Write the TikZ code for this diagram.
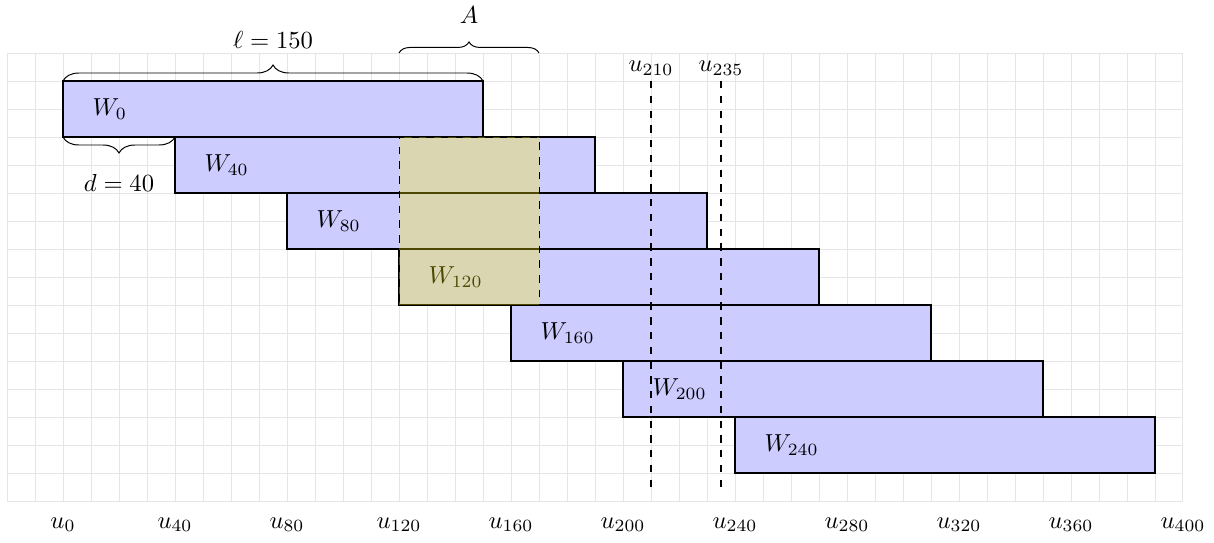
\documentclass[tikz,border=0pt]{standalone}
\usetikzlibrary{decorations.pathreplacing}
\definecolor{hlc}{RGB}{255,238,0}
\begin{document}
\begin{tikzpicture}[x=0.4cm,y=0.4cm,
  win/.style={draw=black, thick, fill=blue!20, minimum width=6cm, minimum height=0.8cm, inner sep=0pt, outer sep=0pt, anchor=south west},
  wlab/.style={anchor=west},
  vline/.style={thick, dashed},
  hl/.style={fill=hlc, fill opacity=0.3, draw=black, dashed, minimum width=2cm, minimum height=2.4cm, inner sep=0pt, outer sep=0pt, anchor=south west},
  bracestyle/.style={decorate, decoration={brace, amplitude=#1}}]
\useasboundingbox (-2.25,-1.464) rectangle (41.107,17.893);
\draw[gray!20, step=0.4cm] (-2,0) grid (40,16);
\foreach \k in {0,...,6} {
  \pgfmathtruncatemacro\v{40*\k}
  \node[win] (w\k) at ({4*\k},{13-2*\k}) {};
  \node[wlab] (lw\k) at ({4*\k+0.75},{14-2*\k}) {$W_{\v}$};
}
\foreach \k in {0,...,10} {
  \pgfmathtruncatemacro\v{40*\k}
  \node (u\v) at ({4*\k},-0.85) {$u_{\v}$};
}
\node[hl] (A) at (12,7) {};
\coordinate (t210) at (21,15);
\coordinate (b210) at (21,0.5);
\coordinate (t235) at (23.5,15);
\coordinate (b235) at (23.5,0.5);
\draw[vline] (t210) -- (b210);
\draw[vline] (t235) -- (b235);
\node (l210) at (21,15.45) {$u_{210}$};
\node (l235) at (23.5,15.45) {$u_{235}$};
\draw[bracestyle=6.5pt] (w0.north west) -- (w0.north east);
\node (ell) at (7.5,16.46) {$\ell = 150$};
\coordinate (a1) at (12,16);
\coordinate (a2) at (17,16);
\draw[bracestyle=4.5pt] (a1) -- (a2);
\node (alab) at (14.5,17.36) {$A$};
\draw[decorate, decoration={brace, amplitude=6.5pt, mirror}] (w0.south west) -- (w1.north west);
\node (dlab) at (2,11.36) {$d = 40$};
\end{tikzpicture}
\end{document}
